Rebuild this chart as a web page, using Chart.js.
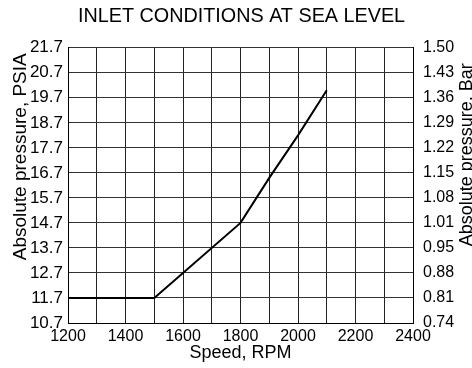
<!DOCTYPE html>
<html>
<head>
<meta charset="utf-8">
<script src="https://cdn.jsdelivr.net/npm/chart.js@4"></script>
<style>
  html, body { margin: 0; padding: 0; background: #fff; }
</style>
</head>
<body>
<canvas id="myChart" width="472" height="368"></canvas>
<script>
// Valores
const speedRpm = [1200, 1500, 1800, 1900, 2000, 2100];
const pressurePsia = [11.7, 11.7, 14.7, 16.5, 18.2, 20.0];
const speedTicks = [1200, 1300, 1400, 1500, 1600, 1700, 1800, 1900, 2000, 2100, 2200, 2300, 2400];
const speedLabels = [1200, 1400, 1600, 1800, 2000, 2200, 2400];
const psiaTicks = [10.7, 11.7, 12.7, 13.7, 14.7, 15.7, 16.7, 17.7, 18.7, 19.7, 20.7, 21.7];
const barLabels = ['0.74', '0.81', '0.88', '0.95', '1.01', '1.08', '1.15', '1.22', '1.29', '1.36', '1.43', '1.50'];

const FONT = '"Liberation Sans", Arial, Helvetica, sans-serif';
Chart.defaults.font.family = FONT;
Chart.defaults.color = '#000';

// Títulos de los ejes Y (ambos leídos de abajo hacia arriba)
const sideTitles = {
    id: 'sideTitles',
    afterDraw(chart) {
        const ctx = chart.ctx;
        const area = chart.chartArea;
        ctx.save();
        ctx.font = '19px ' + FONT;
        ctx.fillStyle = '#000';
        ctx.textAlign = 'center';
        ctx.textBaseline = 'alphabetic';
        ctx.translate(area.left - 42, area.top + 109);
        ctx.rotate(-Math.PI / 2);
        ctx.fillText('Absolute pressure, PSIA', 0, 0);
        ctx.restore();
        ctx.save();
        ctx.font = '18px ' + FONT;
        ctx.fillStyle = '#000';
        ctx.textAlign = 'center';
        ctx.textBaseline = 'alphabetic';
        ctx.translate(area.right + 59, area.top + 107);
        ctx.rotate(-Math.PI / 2);
        ctx.fillText('Absolute pressure, Bar', 0, 0);
        ctx.restore();
    }
};

const ctx = document.getElementById('myChart').getContext('2d');
const myChart = new Chart(ctx, {
    type: 'line',
    data: {
        datasets: [{
            label: 'Absolute pressure',
            data: speedRpm.map((s, i) => ({ x: s, y: pressurePsia[i] })),
            borderColor: '#000',
            borderWidth: 2,
            pointRadius: 0,
            tension: 0,
            fill: false
        }]
    },
    options: {
        responsive: false,
        animation: false,
        devicePixelRatio: 1,
        // el título está algo desplazado a la derecha en el original
        layout: { padding: { left: 11, right: 0, top: 0, bottom: 0 } },
        plugins: {
            legend: { display: false },
            tooltip: { enabled: false },
            title: {
                display: true,
                text: 'INLET CONDITIONS AT SEA LEVEL',
                color: '#000',
                font: { size: 19.8, weight: 'normal' },
                padding: { top: 5, bottom: 19 }
            }
        },
        scales: {
            x: {
                type: 'linear',
                min: 1200,
                max: 2400,
                afterBuildTicks: (scale) => { scale.ticks = speedTicks.map(v => ({ value: v })); },
                afterFit: (scale) => { scale.height = 45; },
                grid: { color: '#222', lineWidth: 1, drawTicks: false },
                border: { color: '#000', width: 1 },
                ticks: {
                    autoSkip: false,
                    maxRotation: 0,
                    padding: 4,
                    font: { size: 16 },
                    callback: (v) => speedLabels.includes(v) ? String(v) : ''
                },
                title: {
                    display: true,
                    text: 'Speed, RPM',
                    color: '#000',
                    font: { size: 18 },
                    padding: { top: 0, bottom: 4 }
                }
            },
            y: {
                position: 'left',
                min: 10.7,
                max: 21.7,
                afterBuildTicks: (scale) => { scale.ticks = psiaTicks.map(v => ({ value: v })); },
                afterFit: (scale) => { scale.width = 57; },
                grid: { color: '#333', lineWidth: 1, drawTicks: false },
                border: { color: '#000', width: 1 },
                ticks: {
                    padding: 5,
                    font: { size: 17 },
                    callback: (v, i) => psiaTicks[i].toFixed(1)
                }
            },
            y2: {
                position: 'right',
                min: 10.7,
                max: 21.7,
                afterBuildTicks: (scale) => { scale.ticks = psiaTicks.map(v => ({ value: v })); },
                afterFit: (scale) => { scale.width = 59; },
                grid: { display: false, drawTicks: false },
                border: { color: '#000', width: 1 },
                ticks: {
                    padding: 10,
                    font: { size: 16 },
                    callback: (v, i) => barLabels[i]
                }
            }
        }
    },
    plugins: [sideTitles]
});
</script>
</body>
</html>
